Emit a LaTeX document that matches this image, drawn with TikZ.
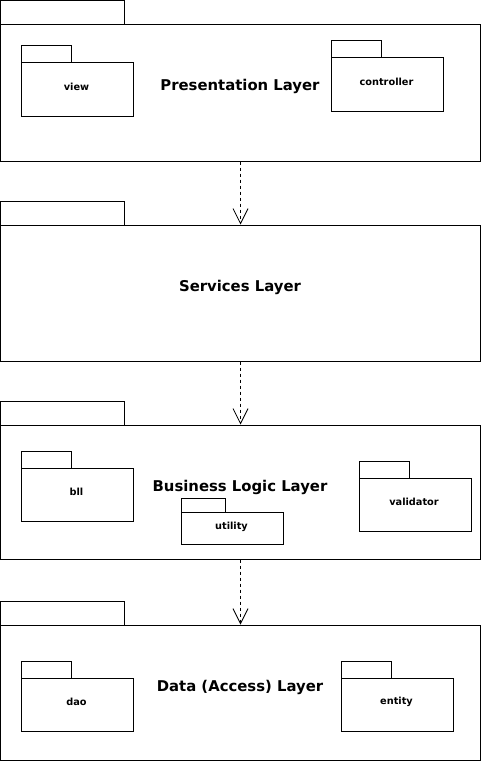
\documentclass[tikz,border=0pt]{standalone}
\usepackage{fontspec}
\setmainfont{DejaVu Sans}
\usetikzlibrary{arrows.meta}
\tikzset{
  box/.style={draw=black, line width=1bp, fill=white, inner sep=0pt, anchor=north west, rectangle},
  title/.style={font=\bfseries\fontsize{14.9}{17}\selectfont, inner sep=0pt},
  small/.style={font=\bfseries\fontsize{9.8}{11}\selectfont, inner sep=0pt},
  dep/.style={draw=black, line width=0.8bp, dash pattern=on 3bp off 3bp, -{Straight Barb[length=15bp,width=15bp,line width=0.8bp]}}
}
\begin{document}
\begin{tikzpicture}[x=1bp,y=-1bp]
\useasboundingbox (0,0) rectangle (481,761);
\fill[white] (0,0) rectangle (481,761);
% Layer 1
\node[box, minimum width=123bp, minimum height=24bp] (L1t) at (0.5,0.5) {};
\node[box, minimum width=479bp, minimum height=136bp] (L1) at (0.5,24.5) {};
\node[title] (L1n) at (240,86) {Presentation Layer};
\node[box, minimum width=50bp, minimum height=17bp] (viewt) at (20.5,45.5) {};
\node[box, minimum width=112bp, minimum height=53bp] (view) at (20.5,62.5) {};
\node[small] (viewn) at (76.5,87) {view};
\node[box, minimum width=50bp, minimum height=17bp] (ctrlt) at (330.5,40.5) {};
\node[box, minimum width=112bp, minimum height=53bp] (ctrl) at (330.5,57.5) {};
\node[small] (ctrln) at (386.5,82) {controller};
% Layer 2
\node[box, minimum width=123bp, minimum height=24bp] (L2t) at (0.5,200.5) {};
\node[box, minimum width=479bp, minimum height=136bp] (L2) at (0.5,224.5) {};
\node[title] (L2n) at (240,287) {Services Layer};
% Layer 3
\node[box, minimum width=123bp, minimum height=24bp] (L3t) at (0.5,400.5) {};
\node[box, minimum width=479bp, minimum height=134bp] (L3) at (0.5,424.5) {};
\node[title] (L3n) at (240,487) {Business Logic Layer};
\node[box, minimum width=50bp, minimum height=17bp] (bllt) at (20.5,450.5) {};
\node[box, minimum width=112bp, minimum height=53bp] (bll) at (20.5,467.5) {};
\node[small] (blln) at (76.5,492) {bll};
\node[box, minimum width=44bp, minimum height=14bp] (utilt) at (180.5,497.5) {};
\node[box, minimum width=102bp, minimum height=32bp] (util) at (180.5,511.5) {};
\node[small] (utiln) at (231.5,527) {utility};
\node[box, minimum width=50bp, minimum height=17bp] (valt) at (358.5,460.5) {};
\node[box, minimum width=112bp, minimum height=53bp] (val) at (358.5,477.5) {};
\node[small] (valn) at (414,502) {validator};
% Layer 4
\node[box, minimum width=123bp, minimum height=24bp] (L4t) at (0.5,600.5) {};
\node[box, minimum width=479bp, minimum height=135bp] (L4) at (0.5,624.5) {};
\node[title] (L4n) at (240,687) {Data (Access) Layer};
\node[box, minimum width=50bp, minimum height=17bp] (daot) at (20.5,660.5) {};
\node[box, minimum width=112bp, minimum height=53bp] (dao) at (20.5,677.5) {};
\node[small] (daon) at (76.5,702) {dao};
\node[box, minimum width=50bp, minimum height=17bp] (entt) at (340.5,660.5) {};
\node[box, minimum width=112bp, minimum height=53bp] (ent) at (340.5,677.5) {};
\node[small] (entn) at (396.5,702) {entity};
% Dependencies
\draw[dep] (L1.south -| 240.5,0) -- (L2.north -| 240.5,0);
\draw[dep] (L2.south -| 240.5,0) -- (L3.north -| 240.5,0);
\draw[dep] (L3.south -| 240.5,0) -- (L4.north -| 240.5,0);
\end{tikzpicture}
\end{document}
